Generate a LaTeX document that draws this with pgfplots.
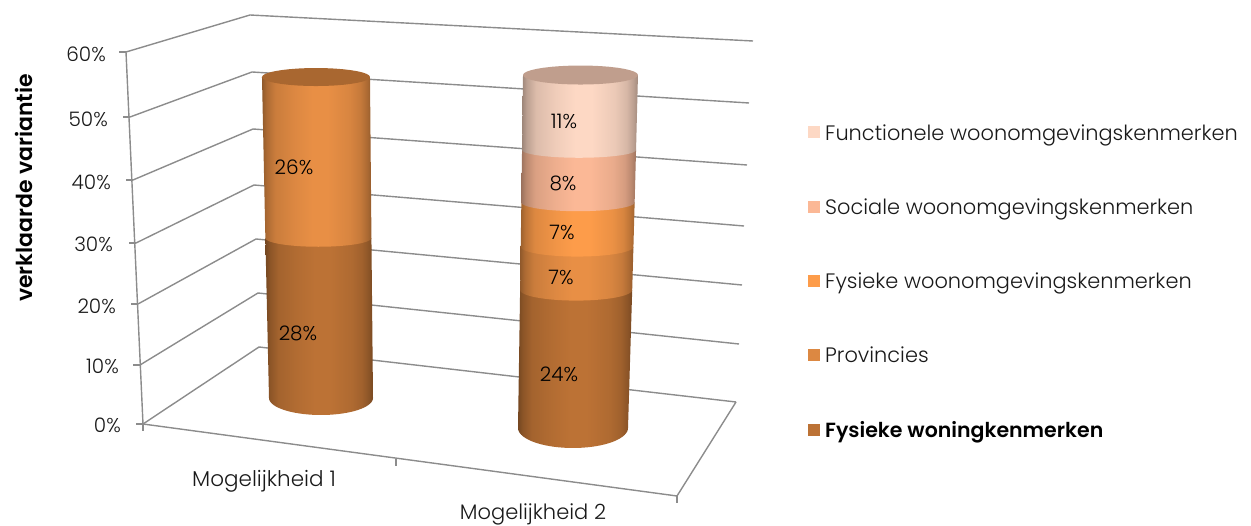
\documentclass[border=0pt]{standalone}
\usepackage{fontspec}
\usepackage{pgfplots}
\pgfplotsset{compat=1.18}
\setmainfont{Poppins}[UprightFont=* Light,BoldFont=* SemiBold]

% series colours
\definecolor{cWon}{HTML}{BC7235}
\definecolor{cPro}{HTML}{E88F45}
\definecolor{cFys}{HTML}{FD9C4A}
\definecolor{cSoc}{HTML}{FBB896}
\definecolor{cFun}{HTML}{FDD8C4}
\definecolor{gridgray}{HTML}{8C8C8C}
\definecolor{capFun}{HTML}{C09E8D}

% horizontal light falloff across a cylinder
\newcommand{\mkshade}[2]{%
  \pgfdeclarehorizontalshading{#1}{100bp}{
    color(0bp)=(#2!62!black);
    color(25bp)=(#2!62!black);
    color(27bp)=(#2!74!black);
    color(31bp)=(#2!87!black);
    color(40bp)=(#2!95!black);
    color(48bp)=(#2);
    color(55bp)=(#2);
    color(65bp)=(#2!93!black);
    color(70bp)=(#2!85!black);
    color(73bp)=(#2!74!black);
    color(75bp)=(#2!64!black);
    color(100bp)=(#2!64!black)}}
\mkshade{shWon}{cWon}
\mkshade{shPro}{cPro}
\mkshade{shFys}{cFys}
\mkshade{shSoc}{cSoc}
\mkshade{shFun}{cFun}

% cylinder geometry as a function of the percentage on the value axis
\pgfmathdeclarefunction{lft}{1}{\pgfmathparse{\Lz+\Ls*#1}}
\pgfmathdeclarefunction{rgt}{1}{\pgfmathparse{\Rz+\Rs*#1}}
\pgfmathdeclarefunction{ys}{1}{\pgfmathparse{\Yz-\Ya*#1-\Yb*#1*#1}}
\pgfmathdeclarefunction{ry}{1}{\pgfmathparse{\Ez+\Es*#1}}

\newcommand{\setcylinder}[8]{%
  \gdef\Lz{#1}\gdef\Ls{#2}\gdef\Rz{#3}\gdef\Rs{#4}%
  \gdef\Yz{#5}\gdef\Ya{#6}\gdef\Yb{#7}\gdef\Ez{#8}%
  \gdef\cumul{0}}
\newcommand{\setcapslope}[1]{\gdef\Es{#1}}

% one stacked block of the cylinder, value #1, rounded lower edge
% (the joints between blocks curve less than the base of the cylinder)
\newcommand{\segment}[2]{%
  \pgfmathsetmacro\vlo{\cumul}%
  \pgfmathsetmacro\vhi{\cumul+#1}%
  \xdef\cumul{\vhi}%
  \pgfmathsetmacro\arcf{\vlo>0 ? 0.68 : 1}%
  \gdef\pts{}%
  \pgfplotsforeachungrouped \ang in {180,185,...,360}{%
    \pgfmathsetmacro\px{(lft(\vlo)+rgt(\vlo))/2+(rgt(\vlo)-lft(\vlo))/2*cos(\ang)}%
    \pgfmathsetmacro\py{ys(\vlo)-\arcf*ry(\vlo)*sin(\ang)}%
    \xdef\pts{\pts (\px,\py)}}%
  \pgfmathsetmacro\px{rgt(\vhi)}\pgfmathsetmacro\py{ys(\vhi)}\xdef\pts{\pts (\px,\py)}%
  \pgfmathsetmacro\px{lft(\vhi)}\xdef\pts{\pts (\px,\py)}%
  \edef\tmp{\noexpand\addplot[draw=none,shading=#2,forget plot] coordinates {\pts} -- cycle;}\tmp}

% end cap at the current stack height
\newcommand{\topcap}[1]{%
  \gdef\pts{}%
  \pgfplotsforeachungrouped \ang in {0,10,...,350}{%
    \pgfmathsetmacro\px{(lft(\cumul)+rgt(\cumul))/2+(rgt(\cumul)-lft(\cumul))/2*cos(\ang)}%
    \pgfmathsetmacro\py{ys(\cumul)-ry(\cumul)*sin(\ang)}%
    \xdef\pts{\pts (\px,\py)}}%
  \edef\tmp{\noexpand\addplot[draw=none,fill=#1,forget plot] coordinates {\pts} -- cycle;}\tmp}

\begin{document}
\begin{tikzpicture}
\path[use as bounding box] (0,0) rectangle (1251pt,526pt);
\begin{axis}[
  at={(0,0)},anchor=south west,
  width=1251pt,height=526pt,scale only axis,
  xmin=0,xmax=1251,ymin=0,ymax=526,y dir=reverse,
  hide axis,clip=false,
  every axis plot/.append style={line width=1.4pt},
]
% value-axis spine and ticks
\addplot[gridgray,forget plot] coordinates {(126,52)(143,424)};
\addplot[gridgray,forget plot] coordinates {(119,52)(126,52)};
\addplot[gridgray,forget plot] coordinates {(123,117)(130,117)};
\addplot[gridgray,forget plot] coordinates {(126,180)(133,180)};
\addplot[gridgray,forget plot] coordinates {(129,243)(136,243)};
\addplot[gridgray,forget plot] coordinates {(131,304)(138,304)};
\addplot[gridgray,forget plot] coordinates {(133,365)(140,365)};
\addplot[gridgray,forget plot] coordinates {(136,424)(143,424)};
% side and back wall gridlines, 60% down to 0%
\addplot[gridgray,forget plot] coordinates {(126,52)(250,15)(753,41)};
\addplot[gridgray,forget plot] coordinates {(130,117)(252,72)(749,103)};
\addplot[gridgray,forget plot] coordinates {(133,180)(253,129)(747,165)};
\addplot[gridgray,forget plot] coordinates {(136,243)(254,185)(744,226)};
\addplot[gridgray,forget plot] coordinates {(138,304)(256,239)(742,285)};
\addplot[gridgray,forget plot] coordinates {(140,365)(258,293)(739,344)};
\addplot[gridgray,forget plot] coordinates {(143,424)(259,347)(736,402)};
% floor and category ticks
\addplot[gridgray,forget plot] coordinates {(143,424)(677,496)(736,402)};
\addplot[gridgray,forget plot] coordinates {(143,424)(143,431)};
\addplot[gridgray,forget plot] coordinates {(396,459)(396,466)};
\addplot[gridgray,forget plot] coordinates {(677,496)(677,503)};

% Mogelijkheid 1
\setcapslope{-0.148}
\setcylinder{269}{-0.13}{373}{-0.056}{398}{5.466}{0.00885}{17}
\segment{28}{shWon}
\segment{26}{shPro}
\topcap{cWon!90!black}
% Mogelijkheid 2
\setcapslope{-0.184}
\setcylinder{518}{0.088}{628}{0.175}{428}{5.428}{0.01342}{20}
\segment{24}{shWon}
\segment{7}{shPro}
\segment{7}{shFys}
\segment{8}{shSoc}
\segment{11}{shFun}
\topcap{capFun}

% value labels
\begin{scope}[every node/.style={font=\fontsize{20}{22}\selectfont,text=black,anchor=base,inner sep=0pt}]
\node at (axis cs:294,175) {26\%};
\node at (axis cs:298,341) {28\%};
\node at (axis cs:564,129) {11\%};
\node at (axis cs:563,191) {8\%};
\node at (axis cs:562,240) {7\%};
\node at (axis cs:561,285) {7\%};
\node at (axis cs:559,382) {24\%};
\end{scope}

% tick labels
\begin{scope}[every node/.style={font=\fontsize{20}{22}\selectfont,text=black!90,anchor=base east,inner sep=0pt}]
\node at (axis cs:106,62) {60\%};
\node at (axis cs:108,127) {50\%};
\node at (axis cs:111,190) {40\%};
\node at (axis cs:113,252) {30\%};
\node at (axis cs:116,314) {20\%};
\node at (axis cs:119,374) {10\%};
\node at (axis cs:121,433) {0\%};
\end{scope}
\node[font=\fontsize{21.5}{24}\selectfont,text=black!90,anchor=base,inner sep=0pt] at (axis cs:264,487) {Mogelijkheid 1};
\node[font=\fontsize{21}{24}\selectfont,text=black!90,anchor=base,inner sep=0pt] at (axis cs:533,519) {Mogelijkheid 2};
\node[font=\fontsize{22}{24}\bfseries\selectfont,rotate=90,anchor=base,inner sep=0pt] at (axis cs:32,188) {verklaarde variantie};

% legend
\begin{scope}[every node/.style={font=\fontsize{20.9}{23}\selectfont,text=black!90,anchor=base west,inner sep=0pt}]
\addplot[draw=none,fill=cFun,forget plot] coordinates {(808,126)(820,126)(820,138)(808,138)} -- cycle;
\addplot[draw=none,fill=cSoc,forget plot] coordinates {(808,201)(820,201)(820,213)(808,213)} -- cycle;
\addplot[draw=none,fill=cFys,forget plot] coordinates {(808,275)(820,275)(820,287)(808,287)} -- cycle;
\addplot[draw=none,fill=cPro!95!black,forget plot] coordinates {(808,349)(820,349)(820,361)(808,361)} -- cycle;
\addplot[draw=none,fill=cWon,forget plot] coordinates {(808,424)(820,424)(820,436)(808,436)} -- cycle;
\node at (axis cs:825,141) {Functionele woonomgevingskenmerken};
\node at (axis cs:825,215) {Sociale woonomgevingskenmerken};
\node at (axis cs:825,289) {Fysieke woonomgevingskenmerken};
\node at (axis cs:825,363) {Provincies};
\node[font=\fontsize{20.5}{23}\bfseries\selectfont,text=black] at (axis cs:825,438) {Fysieke woningkenmerken};
\end{scope}
\end{axis}
\end{tikzpicture}
\end{document}
